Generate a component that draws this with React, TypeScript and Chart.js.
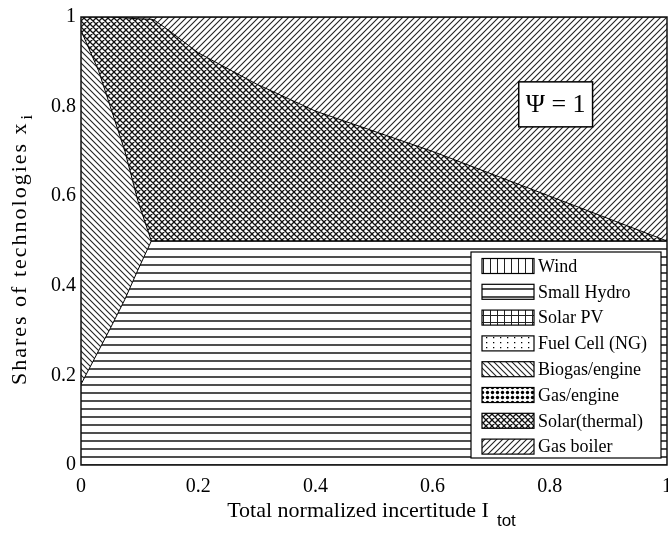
import React, { useEffect, useRef } from 'react';
import { Chart, registerables } from 'chart.js';

Chart.register(...registerables);

// ---- data ----
const X_VALUES = [0, 0.03, 0.05, 0.075, 0.097, 0.12, 0.125, 0.15, 0.2, 0.3, 0.4, 0.5, 0.6, 0.7, 0.8, 0.9, 1.0];
const WIND = [0, 0, 0, 0, 0, 0, 0, 0, 0, 0, 0, 0, 0, 0, 0, 0, 0];
const SMALL_HYDRO = [0.18, 0.255, 0.305, 0.37, 0.435, 0.5, 0.5, 0.5, 0.5, 0.5, 0.5, 0.5, 0.5, 0.5, 0.5, 0.5, 0.5];
const SOLAR_PV = [0, 0, 0, 0, 0, 0, 0, 0, 0, 0, 0, 0, 0, 0, 0, 0, 0];
const FUEL_CELL = [0, 0, 0, 0, 0, 0, 0, 0, 0, 0, 0, 0, 0, 0, 0, 0, 0];
const BIOGAS = [0.79, 0.625, 0.495, 0.33, 0.155, 0, 0, 0, 0, 0, 0, 0, 0, 0, 0, 0, 0];
const GAS_ENGINE = [0, 0, 0, 0, 0, 0, 0, 0, 0, 0, 0, 0, 0, 0, 0, 0, 0];
const SOLAR_THERMAL = [0.03, 0.12, 0.2, 0.298, 0.406, 0.495, 0.493, 0.47, 0.42, 0.35, 0.29, 0.245, 0.2, 0.15, 0.1, 0.05, 0];
const GAS_BOILER = [0, 0, 0, 0.002, 0.004, 0.005, 0.007, 0.03, 0.08, 0.15, 0.21, 0.255, 0.3, 0.35, 0.4, 0.45, 0.5];

const SERIES_NAMES = ['Wind', 'Small Hydro', 'Solar PV', 'Fuel Cell (NG)', 'Biogas/engine', 'Gas/engine', 'Solar(thermal)', 'Gas boiler'];
const SERIES_VALUES = [WIND, SMALL_HYDRO, SOLAR_PV, FUEL_CELL, BIOGAS, GAS_ENGINE, SOLAR_THERMAL, GAS_BOILER];
const SERIES_PATTERNS = ['vertical', 'horizontal', 'grid', 'sparseDots', 'backslash', 'denseDots', 'cross', 'slash'];

const TICK_VALUES = [0, 0.2, 0.4, 0.6, 0.8, 1];
const TICK_LABELS = ['0', '0.2', '0.4', '0.6', '0.8', '1'];
const X_TITLE = 'Total normalized incertitude I';
const X_TITLE_SUB = 'tot';
const Y_TITLE = 'Shares of technologies x';
const Y_TITLE_SUB = 'i';
const ANNOTATION_TEXT = 'Ψ = 1';
const ANNOTATION_POS = { x: 0.81, y: 0.805 };

const SERIF = "'Liberation Serif', 'Times New Roman', serif";
const SANS = "'Liberation Sans', Arial, sans-serif";

function makePattern(kind: string): CanvasPattern | string {
  const c = document.createElement('canvas');
  let w = 6, h = 6;
  if (kind === 'vertical' || kind === 'grid') { w = 7; h = 7; }
  if (kind === 'horizontal') { w = 8; h = 8; }
  if (kind === 'sparseDots') { w = 7; h = 5; }
  if (kind === 'denseDots') { w = 5; h = 5; }
  c.width = w; c.height = h;
  const g = c.getContext('2d')!;
  g.fillStyle = '#fff';
  g.fillRect(0, 0, w, h);
  g.strokeStyle = '#222';
  g.fillStyle = '#000';
  g.lineWidth = 1;
  g.beginPath();
  if (kind === 'vertical') {
    g.moveTo(0.5, 0); g.lineTo(0.5, h);
  } else if (kind === 'horizontal') {
    g.lineWidth = 1.6;
    g.moveTo(0, 1); g.lineTo(w, 1);
  } else if (kind === 'grid') {
    g.moveTo(0.5, 0); g.lineTo(0.5, h);
    g.moveTo(0, 0.5); g.lineTo(w, 0.5);
  } else if (kind === 'sparseDots') {
    g.rect(3, 2, 1.3, 1.3);
    g.fill();
  } else if (kind === 'denseDots') {
    g.arc(2.5, 2.5, 1.7, 0, Math.PI * 2);
    g.fill();
  } else if (kind === 'backslash') {
    g.lineWidth = 1.1;
    g.moveTo(-1, -1); g.lineTo(w + 1, h + 1);
    g.moveTo(-1, h - 1); g.lineTo(1, h + 1);
    g.moveTo(w - 1, -1); g.lineTo(w + 1, 1);
  } else if (kind === 'slash') {
    g.lineWidth = 1.1;
    g.moveTo(-1, 1); g.lineTo(1, -1);
    g.moveTo(-1, h + 1); g.lineTo(w + 1, -1);
    g.moveTo(w - 1, h + 1); g.lineTo(w + 1, h - 1);
  } else if (kind === 'cross') {
    g.lineWidth = 1.3;
    g.strokeStyle = '#111';
    g.moveTo(-1, -1); g.lineTo(w + 1, h + 1);
    g.moveTo(-1, h - 1); g.lineTo(1, h + 1);
    g.moveTo(w - 1, -1); g.lineTo(w + 1, 1);
    g.moveTo(-1, 1); g.lineTo(1, -1);
    g.moveTo(-1, h + 1); g.lineTo(w + 1, -1);
    g.moveTo(w - 1, h + 1); g.lineTo(w + 1, h - 1);
  }
  if (kind !== 'sparseDots' && kind !== 'denseDots') g.stroke();
  const p = g.createPattern(c, 'repeat');
  return p || '#fff';
}

export default function App() {
  const ref = useRef<HTMLCanvasElement | null>(null);

  useEffect(() => {
    const canvas = ref.current;
    if (!canvas) return;
    const patterns = SERIES_PATTERNS.map(makePattern);

    const datasets = SERIES_NAMES.map((name, i) => {
      const vals = SERIES_VALUES[i];
      const nonZero = vals.some((v) => v !== 0);
      return {
        label: name,
        data: X_VALUES.map((x, j) => ({ x, y: vals[j] })),
        backgroundColor: patterns[i],
        borderColor: '#000',
        borderWidth: nonZero ? 1 : 0,
        pointRadius: 0,
        tension: 0,
        fill: i === 0 ? 'origin' : '-1',
      };
    });

    const overlay = {
      id: 'overlay',
      afterDraw(chart: any) {
        const ctx = chart.ctx as CanvasRenderingContext2D;
        const area = chart.chartArea;
        const xs = chart.scales.x;
        const ys = chart.scales.y;
        ctx.save();

        // frame
        ctx.strokeStyle = '#111';
        ctx.lineWidth = 1.5;
        ctx.strokeRect(area.left, area.top, area.right - area.left, area.bottom - area.top);

        // annotation box
        const cx = xs.getPixelForValue(ANNOTATION_POS.x);
        const cy = ys.getPixelForValue(ANNOTATION_POS.y);
        ctx.font = `26px ${SERIF}`;
        const tw = ctx.measureText(ANNOTATION_TEXT).width;
        const bw = tw + 14, bh = 45;
        ctx.fillStyle = '#fff';
        ctx.fillRect(cx - bw / 2, cy - bh / 2, bw, bh);
        ctx.lineWidth = 1.5;
        ctx.strokeStyle = '#000';
        ctx.strokeRect(cx - bw / 2, cy - bh / 2, bw, bh);
        ctx.fillStyle = '#000';
        ctx.textAlign = 'center';
        ctx.textBaseline = 'middle';
        ctx.fillText(ANNOTATION_TEXT, cx, cy + 1);

        // legend
        const lw = 190, lh = 206;
        const lx = area.right - 6 - lw;
        const ly = area.bottom - 7 - lh;
        ctx.fillStyle = '#fff';
        ctx.fillRect(lx, ly, lw, lh);
        ctx.lineWidth = 1.2;
        ctx.strokeStyle = '#000';
        ctx.strokeRect(lx, ly, lw, lh);
        ctx.font = `18px ${SERIF}`;
        ctx.textAlign = 'left';
        ctx.textBaseline = 'middle';
        SERIES_NAMES.forEach((name, i) => {
          const rowY = ly + 14 + i * 25.8;
          const sx = lx + 11, sw = 52, sh = 15;
          ctx.fillStyle = patterns[i] as any;
          ctx.fillRect(sx, rowY - sh / 2, sw, sh);
          ctx.lineWidth = 1.2;
          ctx.strokeStyle = '#000';
          ctx.strokeRect(sx, rowY - sh / 2, sw, sh);
          ctx.fillStyle = '#000';
          ctx.fillText(name, sx + sw + 4, rowY + 1);
        });

        // x title
        ctx.fillStyle = '#000';
        ctx.textBaseline = 'alphabetic';
        ctx.textAlign = 'left';
        ctx.font = `22px ${SERIF}`;
        const mw = ctx.measureText(X_TITLE).width;
        ctx.font = `17px ${SANS}`;
        const sw2 = ctx.measureText(X_TITLE_SUB).width;
        const total = mw + 8 + sw2;
        const xStart = (area.left + area.right) / 2 - total / 2 - 2.5;
        ctx.font = `22px ${SERIF}`;
        ctx.fillText(X_TITLE, xStart, 517);
        ctx.font = `17px ${SANS}`;
        ctx.fillText(X_TITLE_SUB, xStart + mw + 8, 526);

        // y title
        ctx.save();
        ctx.translate(26, 249);
        ctx.rotate(-Math.PI / 2);
        (ctx as any).letterSpacing = '2px';
        ctx.font = `22px ${SERIF}`;
        const yw = ctx.measureText(Y_TITLE).width;
        ctx.font = `16px ${SERIF}`;
        const ysw = ctx.measureText(Y_TITLE_SUB).width;
        const yTotal = yw + 2 + ysw;
        ctx.font = `22px ${SERIF}`;
        ctx.fillText(Y_TITLE, -yTotal / 2, 0);
        ctx.font = `16px ${SERIF}`;
        ctx.fillText(Y_TITLE_SUB, -yTotal / 2 + yw + 2, 6);
        (ctx as any).letterSpacing = '0px';
        ctx.restore();

        ctx.restore();
      },
    };

    const tickCb = (v: any) => {
      const idx = TICK_VALUES.findIndex((t) => Math.abs(t - Number(v)) < 1e-6);
      return idx >= 0 ? TICK_LABELS[idx] : '';
    };

    const chart = new Chart(canvas, {
      type: 'line',
      data: { datasets: datasets as any },
      options: {
        animation: false,
        responsive: false,
        devicePixelRatio: 1,
        layout: { padding: { left: 0, top: 12, right: 33, bottom: 0 } },
        plugins: { legend: { display: false }, tooltip: { enabled: false } },
        elements: { line: { tension: 0 } },
        scales: {
          x: {
            type: 'linear',
            min: 0,
            max: 1,
            grid: { display: false, drawTicks: false },
            border: { display: false },
            ticks: {
              stepSize: 0.2,
              color: '#000',
              padding: 10,
              maxRotation: 0,
              font: { family: SERIF, size: 20 },
              callback: tickCb,
            },
            afterFit: (s: any) => { s.height = 71; },
          },
          y: {
            type: 'linear',
            stacked: true,
            min: 0,
            max: 1,
            grid: { display: false, drawTicks: false },
            border: { display: false },
            ticks: {
              stepSize: 0.2,
              color: '#000',
              padding: 5,
              font: { family: SERIF, size: 20 },
              callback: tickCb,
            },
            afterFit: (s: any) => { s.width = 81; },
          },
        },
      },
      plugins: [overlay],
    });

    return () => chart.destroy();
  }, []);

  return (
    <div style={{ position: 'fixed', left: 0, top: 0, width: 668, height: 536, overflow: 'hidden', background: '#fff' }}>
      <canvas ref={ref} width={700} height={536} style={{ display: 'block', width: 700, height: 536 }} />
    </div>
  );
}
